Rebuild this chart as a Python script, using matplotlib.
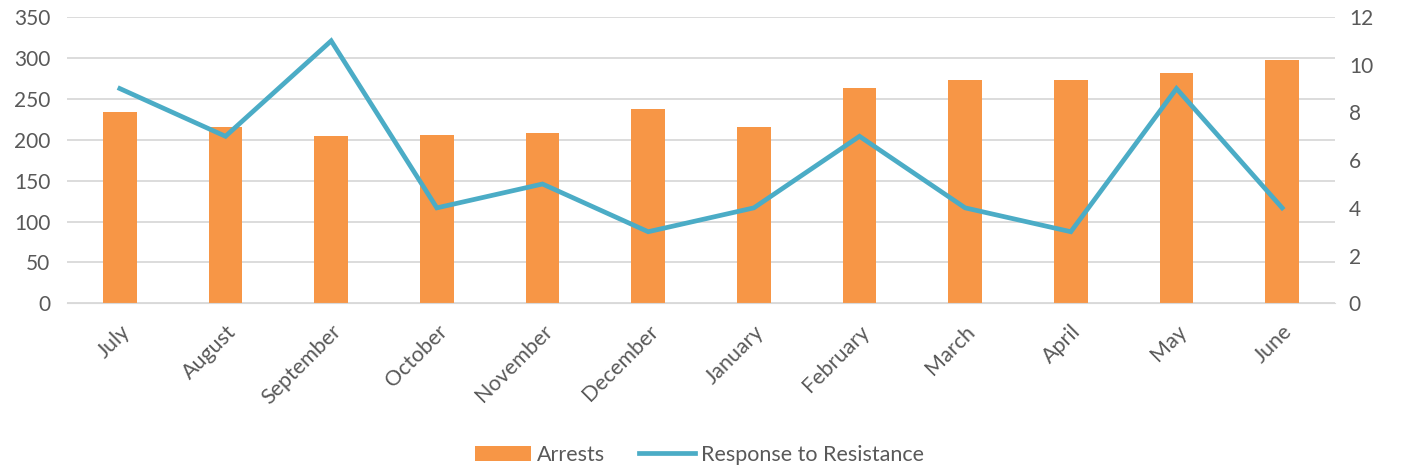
import matplotlib
matplotlib.use("Agg")
from matplotlib import pyplot as plt
import numpy as np

months = ["July", "August", "September", "October", "November", "December",
          "January", "February", "March", "April", "May", "June"]
arrests = [234, 215, 204, 206, 208, 237, 215, 263, 273, 273, 282, 297]
resistance = [9, 7, 11, 4, 5, 3, 4, 7, 4, 3, 9, 4]

plt.rcParams['font.family'] = ['Lato', 'DejaVu Sans']
grey = '#595959'

fig = plt.figure(figsize=(14.02, 4.72), dpi=100)
ax = fig.add_axes([0.0478, 0.3574, 0.9044, 0.6066])
ax2 = ax.twinx()

xs = np.arange(len(months))
ax.bar(xs, arrests, width=0.317, color='#F79646', zorder=2, label='Arrests')
ax2.plot(xs, resistance, color='#4BACC6', lw=3.4, zorder=3,
         solid_joinstyle='miter', label='Response to Resistance')

ax.set_xlim(-0.5, len(months) - 0.5)
ax.set_ylim(0, 350)
ax.set_yticks(range(0, 351, 50))
ax2.set_ylim(0, 12)
ax2.set_yticks(range(0, 13, 2))

ax.grid(axis='y', color='#D9D9D9', lw=1.3, zorder=0)
ax.set_axisbelow(True)
for a in (ax, ax2):
    for s in a.spines.values():
        s.set_visible(False)
    a.tick_params(length=0, colors=grey, labelsize=15)
ax.spines['bottom'].set_visible(True)
ax.spines['bottom'].set_color('#D9D9D9')
ax.tick_params(axis='y', pad=12)
ax2.tick_params(axis='y', pad=10)

ax.set_xticks(xs)
ax.set_xticklabels(months, rotation=45, ha='right', rotation_mode='anchor',
                   fontsize=15.5)
ax.tick_params(axis='x', pad=13)

h1, l1 = ax.get_legend_handles_labels()
h2, l2 = ax2.get_legend_handles_labels()
fig.legend(h1 + h2, l1 + l2, loc='center', bbox_to_anchor=(0.499, 0.036), ncol=2,
           frameon=False, fontsize=15.5, labelcolor=grey, handlelength=2.6,
           handletextpad=0.25, columnspacing=1.6)

fig.savefig("out.png", dpi=100)
